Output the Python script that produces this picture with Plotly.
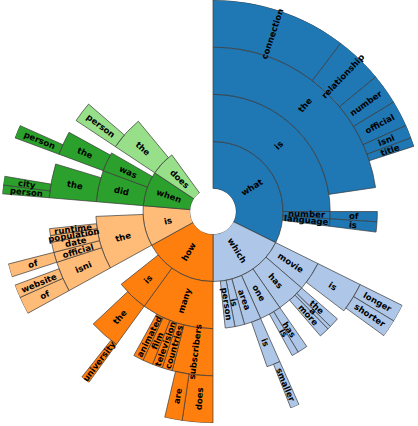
"""Sunburst des débuts de questions : barpolar + étiquettes radiales."""

import math
import plotly.graph_objects as go

# --- données : chemin du mot (ordre horaire) et nombre de questions ---
total = 300
node_ids = [
    "what", "what/is", "what/is/the",
    "what/is/the/connection", "what/is/the/relationship", "what/is/the/number",
    "what/is/the/official", "what/is/the/isni", "what/is/the/title",
    "what/number", "what/number/of", "what/language", "what/language/is",
    "which", "which/movie", "which/movie/is",
    "which/movie/is/longer", "which/movie/is/shorter",
    "which/has", "which/has/the", "which/has/a", "which/has/more",
    "which/one", "which/one/has", "which/one/is",
    "which/area", "which/area/is", "which/area/is/smaller",
    "which/is", "which/person",
    "how", "how/many", "how/many/subscribers",
    "how/many/subscribers/does", "how/many/subscribers/are",
    "how/many/countries", "how/many/television", "how/many/film",
    "how/many/animated",
    "how/is", "how/is/the", "how/is/the/university",
    "is", "is/the", "is/the/isni", "is/the/isni/of", "is/the/isni/website",
    "is/the/official", "is/the/official/of", "is/the/date",
    "is/the/population", "is/the/runtime",
    "when", "when/did", "when/did/the", "when/did/the/person",
    "when/did/the/city", "when/was", "when/was/the", "when/was/the/person",
    "does", "does/the", "does/the/person",
]
node_values = [
    97, 75, 68,
    31, 11, 7,
    6, 3, 2,
    3, 3, 3, 3,
    53, 12, 9,
    4, 4,
    12, 3, 1, 3,
    9, 3, 2,
    7, 4, 2,
    4, 4,
    51, 30, 12,
    7, 4,
    3, 3, 3,
    3,
    13, 9, 2,
    28, 22, 9, 4, 3,
    3, 3, 3,
    2, 2,
    24, 13, 10, 2,
    2, 8, 7, 3,
    17, 14, 6,
]
root_colors = {
    "what": "#1f77b4", "which": "#aec7e8", "how": "#ff7f0e",
    "is": "#ffbb78", "when": "#2ca02c", "does": "#98df8a",
}

W, H = 426, 426
M = dict(l=0, r=0, t=0, b=3)
hole = 0.108
n_rings = 4

# --- partition angulaire (le reste du parent reste vide, en fin) ---
deg_per_unit = 360 / total
cursor = {"": 0.0}
thetas, widths, bases, colors, labels = [], [], [], [], []
for nid, v in zip(node_ids, node_values):
    parent = nid.rsplit("/", 1)[0] if "/" in nid else ""
    s = cursor[parent]
    w = v * deg_per_unit
    cursor[parent] = s + w
    cursor[nid] = s
    thetas.append(s + w / 2)
    widths.append(w)
    bases.append(nid.count("/"))
    colors.append(root_colors[nid.split("/")[0]])
    labels.append(nid.split("/")[-1])

fig = go.Figure(go.Barpolar(
    theta=thetas, width=widths, base=bases, r=[1] * len(thetas),
    marker=dict(color=colors, line=dict(color="#3a3a3a", width=0.7)),
    hovertext=[f"{i.replace('/', ' ')} : {v}" for i, v in zip(node_ids, node_values)],
    hoverinfo="text",
))

# --- étiquettes : position en pixels -> paper, texte dans l'axe radial ---
pw = W - M["l"] - M["r"]
ph = H - M["t"] - M["b"]
R = min(pw, ph) / 2
cx = M["l"] + pw / 2
cy = M["t"] + ph / 2
r0 = hole * R
ring = (R - r0) / n_rings

annotations = []
for th, d, lab in zip(thetas, bases, labels):
    rr = r0 + (d + 0.5) * ring
    a = math.radians(th)
    px = cx + rr * math.sin(a)
    py = cy - rr * math.cos(a)
    ang = th - 90 if th < 180 else th - 270
    annotations.append(dict(
        x=(px - M["l"]) / pw, y=1 - (py - M["t"]) / ph,
        xref="paper", yref="paper", text=lab, showarrow=False,
        textangle=ang, xanchor="center", yanchor="middle",
        font=dict(family="DejaVu Sans", size=8.5, color="black", weight="bold"),
    ))

fig.update_layout(
    width=W, height=H, margin=M,
    paper_bgcolor="white", showlegend=False,
    polar=dict(
        hole=hole, bgcolor="white", barmode="overlay",
        radialaxis=dict(range=[0, n_rings], visible=False),
        angularaxis=dict(direction="clockwise", rotation=90, visible=False),
    ),
    annotations=annotations,
)

# la marge par défaut du <body> décale la figure de 8 px
fig.write_html("out.html", config={"displayModeBar": False},
               post_script="document.body.style.margin='0';")
